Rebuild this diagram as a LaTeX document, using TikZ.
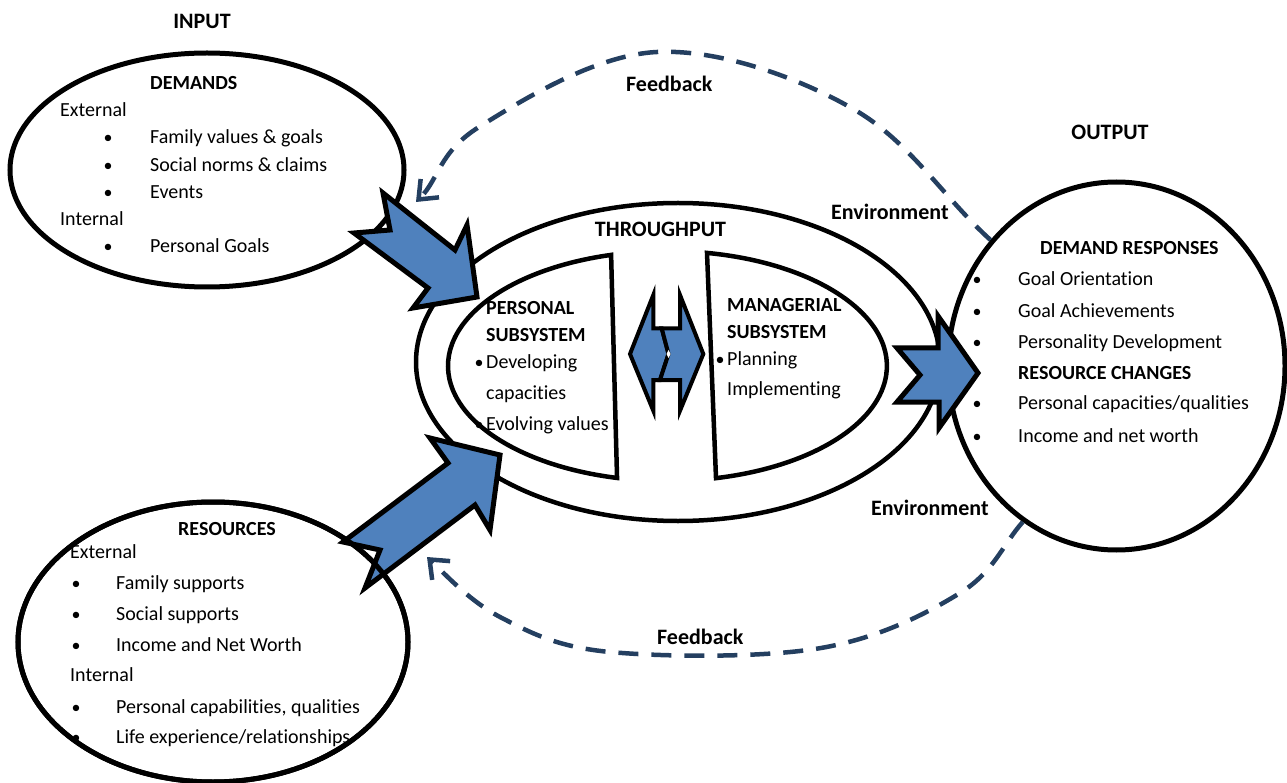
\documentclass[tikz,border=0pt]{standalone}
\usepackage{fontspec}
\setmainfont{Carlito}[Ligatures=NoCommon]
\usetikzlibrary{shapes.geometric,arrows.meta}
\definecolor{arrowblue}{RGB}{79,129,189}
\definecolor{fbblue}{RGB}{36,63,96}
\tikzset{
  bigell/.style={draw, ellipse, line width=5pt, inner sep=0pt, fill=white},
  midell/.style={draw, ellipse, line width=4.5pt, inner sep=0pt, fill=white},
  halfshape/.style={draw, fill=white, line width=4.5pt, line join=miter},
  blockarrow/.style={draw=black, fill=arrowblue, line width=5pt, line join=miter},
  smallarrow/.style={draw=black, fill=arrowblue, line width=4pt, line join=miter},
  fb/.style={draw=fbblue, line width=4.5pt, dash pattern=on 20pt off 13pt, -{Straight Barb[length=16pt,width=26pt]}},
  txt/.style={anchor=base west, inner sep=0pt, font=\fontsize{20}{24}\selectfont},
  btxt/.style={anchor=base west, inner sep=0pt, font=\fontsize{20}{24}\selectfont\bfseries},
  bul/.style={anchor=base, inner sep=0pt, font=\fontsize{18}{24}\selectfont},
  lbl/.style={anchor=base, inner sep=0pt, font=\fontsize{22}{26}\selectfont\bfseries},
  lblw/.style={anchor=base west, inner sep=0pt, font=\fontsize{22}{26}\selectfont\bfseries},
}
\begin{document}
\begin{tikzpicture}[x=1pt,y=-1pt]
\useasboundingbox (0,0) rectangle (1287,783);

% ---- ellipses ----
\node[midell, minimum width=524pt, minimum height=318pt] (throughput) at (678,362) {};
\draw[halfshape] (611.1,254.9) arc[start angle=-104.9, end angle=-256.7, x radius=219.5, y radius=115] -- cycle;
\draw[halfshape] (707,252.9) arc[start angle=-79.6, end angle=77.2, x radius=219.5, y radius=115] -- cycle;
\node[bigell, minimum width=394pt, minimum height=234pt] (input) at (207,170) {};
\node[bigell, minimum width=390pt, minimum height=280pt] (resources) at (213,642) {};
\node[bigell, minimum width=337pt, minimum height=368pt] (output) at (1116.5,366) {};

% ---- block arrows ----
\draw[blockarrow] (383,193) -- (455,250) -- (467,225) -- (477,297) -- (413,308) -- (428,288) -- (354,233) -- (390,230) -- cycle;
\draw[blockarrow] (343,542) -- (448,463) -- (430,438) -- (500,455) -- (490,530) -- (475,505) -- (365,588) -- (380,550) -- cycle;
\draw[blockarrow] (897,348) -- (938,348) -- (938,316) -- (978,373) -- (939,428) -- (939,402) -- (897,402) -- (920,375) -- cycle;
\draw[smallarrow] (630,354) -- (653.3,295) -- (653.3,328.3) -- (661.7,328.3) -- (668.5,354) -- (660,380) -- (653.3,380) -- (653.3,410.7) -- cycle;
\draw[smallarrow] (703.3,354) -- (680,295) -- (680,328.3) -- (661.7,328.3) -- (668.5,354) -- (660,380) -- (680,380) -- (680,410.7) -- cycle;
\fill[white] (668.5,350) -- (670.5,354) -- (668.5,358) -- (666.5,354) -- cycle;

% ---- feedback ----
\coordinate (fbtopend) at (416,202);
\coordinate (fbbotend) at (427,557);
\draw[fb] (output.135) .. controls (944,198) and (910,142) .. (855,110) .. controls (800,78) and (720,49) .. (657,52) .. controls (594,55) and (519,102) .. (479,127) .. controls (439,152) and (439,179) .. (fbtopend);
\draw[fb] (output.239) .. controls (1003,544) and (994,572) .. (960,593) .. controls (926,614) and (879,638) .. (821,648) .. controls (763,658) and (664,657) .. (610,652) .. controls (557,647) and (531,633) .. (500,617) .. controls (470,601) and (449,578) .. (fbbotend);

% ---- labels ----
\node[lbl] (inlbl) at (202,29) {INPUT};
\node[lbl] (outlbl) at (1110,140) {OUTPUT};
\node[lbl] (thrlbl) at (660.5,237) {THROUGHPUT};
\node[lblw] (envtop) at (831,220) {Environment};
\node[lblw] (envbot) at (871,515) {Environment};
\node[lblw] (fbtop) at (626,92) {Feedback};
\node[lblw] (fbbot) at (657,644) {Feedback};

% ---- input text ----
\node[btxt] (dem) at (150,89.5) {DEMANDS};
\node[txt] (dext) at (60,116.5) {External};
\node[bul] (db1) at (108,143.5) {•};
\node[txt] (dt1) at (150,143.5) {Family values \& goals};
\node[bul] (db2) at (108,171.5) {•};
\node[txt] (dt2) at (150,171.5) {Social norms \& claims};
\node[bul] (db3) at (108,198.5) {•};
\node[txt] (dt3) at (150,198.5) {Events};
\node[txt] (dint) at (60,225.5) {Internal};
\node[bul] (db4) at (108,252.5) {•};
\node[txt] (dt4) at (150,252.5) {Personal Goals};

% ---- resources text ----
\node[btxt] (res) at (178,535) {RESOURCES};
\node[txt] (rext) at (70,558) {External};
\node[bul] (rb1) at (76,589.5) {•};
\node[txt] (rt1) at (116,589.5) {Family supports};
\node[bul] (rb2) at (76,620.5) {•};
\node[txt] (rt2) at (116,620.5) {Social supports};
\node[bul] (rb3) at (76,651.5) {•};
\node[txt] (rt3) at (116,651.5) {Income and Net Worth};
\node[txt] (rint) at (70,681.5) {Internal};
\node[bul] (rb4) at (76,713) {•};
\node[txt] (rt4) at (116,713) {Personal capabilities, qualities};
\node[bul] (rb5) at (76,743) {•};
\node[txt] (rt5) at (116,743) {Life experience/relationships};
\draw[line width=5pt] (resources.center) ellipse [x radius=195, y radius=140];

% ---- throughput text ----
\node[btxt] (pers1) at (486,314.5) {PERSONAL};
\node[btxt] (pers2) at (486,341.5) {SUBSYSTEM};
\node[bul] (pb1) at (479,368.5) {•};
\node[txt] (pt1) at (486,368.5) {Developing};
\node[txt] (pt2) at (486,399.5) {capacities};
\node[bul] (pb2) at (479,430.5) {•};
\node[txt] (pt3) at (486,430.5) {Evolving values};
\node[btxt] (man1) at (727,311.5) {MANAGERIAL};
\node[btxt] (man2) at (727,338.5) {SUBSYSTEM};
\node[bul] (mb1) at (720,365.5) {•};
\node[txt] (mt1) at (727,365.5) {Planning};
\node[txt] (mt2) at (727,395.5) {Implementing};

% ---- output text ----
\node[btxt] (dr) at (1040,254.5) {DEMAND RESPONSES};
\node[bul] (ob1) at (977,285.5) {•};
\node[txt] (ot1) at (1018,285.5) {Goal Orientation};
\node[bul] (ob2) at (977,317.5) {•};
\node[txt] (ot2) at (1018,317.5) {Goal Achievements};
\node[bul] (ob3) at (977,348.5) {•};
\node[txt] (ot3) at (1018,348.5) {Personality Development};
\node[btxt] (rc) at (1018,379.5) {RESOURCE CHANGES};
\node[bul] (ob4) at (977,409.5) {•};
\node[txt] (ot4) at (1018,409.5) {Personal capacities/qualities};
\node[bul] (ob5) at (977,442.5) {•};
\node[txt] (ot5) at (1018,442.5) {Income and net worth};
\end{tikzpicture}
\end{document}
